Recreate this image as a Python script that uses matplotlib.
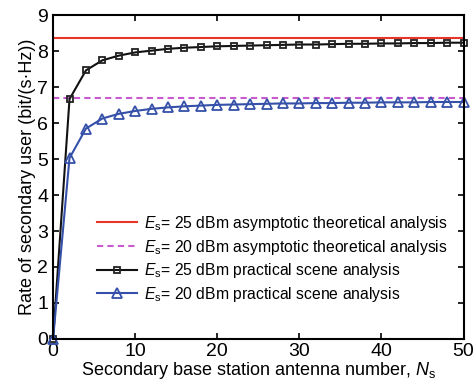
import numpy as np
import matplotlib.pyplot as plt

plt.rcParams['font.family'] = ['Liberation Sans', 'DejaVu Sans']
plt.rcParams['mathtext.fontset'] = 'custom'
plt.rcParams['mathtext.it'] = 'Liberation Sans:italic'
plt.rcParams['mathtext.rm'] = 'Liberation Sans'

ns = list(range(0, 51, 2))
rate_25 = [0, 6.67, 7.47, 7.75, 7.88, 7.97, 8.02, 8.07, 8.10, 8.12, 8.14, 8.15, 8.16,
           8.17, 8.18, 8.19, 8.19, 8.20, 8.21, 8.21, 8.22, 8.22, 8.23, 8.23, 8.24, 8.24]
rate_20 = [0, 5.03, 5.85, 6.13, 6.26, 6.34, 6.40, 6.44, 6.47, 6.49, 6.51, 6.52, 6.53,
           6.54, 6.55, 6.55, 6.56, 6.56, 6.57, 6.57, 6.58, 6.58, 6.58, 6.59, 6.59, 6.59]
asym_25 = 8.36
asym_20 = 6.69

fig = plt.figure(figsize=(4.74, 3.85), dpi=100)
ax = fig.add_axes([0.112, 0.12, 0.866, 0.84])

ax.axhline(asym_25, color='#e8352a', lw=1.5,
           label=r'$E_{\rm s}$= 25 dBm asymptotic theoretical analysis')
ax.axhline(asym_20, color='#c85ad0', lw=1.5, ls=(0, (3, 2)),
           label=r'$E_{\rm s}$= 20 dBm asymptotic theoretical analysis')
ax.plot(ns, rate_25, color='#111111', lw=1.5, marker='s', ms=5, mfc='none',
        mec='#222222', mew=1.3, clip_on=False,
        label=r'$E_{\rm s}$= 25 dBm practical scene analysis')
ax.plot(ns, rate_20, color='#3550a8', lw=1.5, marker='^', ms=7, mfc='none',
        mec='#3550a8', mew=1.3, clip_on=False,
        label=r'$E_{\rm s}$= 20 dBm practical scene analysis')

ax.set_xlim(0, 50)
ax.set_ylim(0, 9)
ax.set_xticks(range(0, 51, 10))
ax.set_yticks(range(0, 10))
ax.tick_params(direction='in', top=True, right=True, labelsize=14, length=4, width=1.2)
ax.tick_params(axis='x', pad=3)
ax.tick_params(axis='y', pad=3.5)
for s in ax.spines.values():
    s.set_linewidth(1.5)

ax.set_xlabel(r'Secondary base station antenna number, $N_{\rm s}$', fontsize=13, labelpad=0)
ax.set_ylabel('Rate of secondary user (bit/(s·Hz))', fontsize=13, labelpad=1)

ax.legend(loc='lower right', bbox_to_anchor=(0.995, 0.064), frameon=False, fontsize=11.3,
          handlelength=2.5, handletextpad=0.45, labelspacing=0.3)

fig.savefig('out.png', dpi=100)
